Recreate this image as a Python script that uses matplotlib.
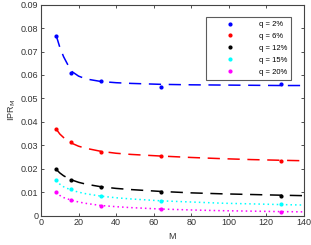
import numpy as np
import matplotlib
matplotlib.use("Agg")
import matplotlib.pyplot as plt

plt.rcParams['font.family'] = ['Liberation Sans', 'DejaVu Sans']

# measured points
M = [8, 16, 32, 64, 128]
ipr_q2 = [0.0766, 0.0607, 0.0575, 0.0548, 0.0560]
ipr_q6 = [0.0370, 0.0313, 0.0272, 0.0256, 0.0233]
ipr_q12 = [0.0199, 0.0152, 0.0124, 0.0102, 0.0084]
ipr_q15 = [0.0152, 0.0113, 0.0083, 0.0063, 0.0049]
ipr_q20 = [0.0102, 0.0067, 0.0043, 0.0027, 0.0017]

# fitted curves
M_fit = [8, 10, 12, 16, 20, 24, 32, 40, 48, 64, 80, 96, 112, 128, 140]
fit_q2 = [0.0770, 0.0718, 0.0678, 0.0617, 0.0595, 0.0583, 0.0572, 0.0567,
          0.0564, 0.0560, 0.0558, 0.0557, 0.0556, 0.0555, 0.0555]
fit_q6 = [0.0370, 0.0348, 0.0333, 0.0310, 0.0296, 0.0287, 0.0274, 0.0266,
          0.0261, 0.0254, 0.0248, 0.0243, 0.0239, 0.0236, 0.0234]
fit_q12 = [0.0198, 0.0182, 0.0170, 0.0153, 0.0142, 0.0134, 0.0123, 0.0116,
           0.0111, 0.0103, 0.0097, 0.0093, 0.0090, 0.0087, 0.0085]
fit_q15 = [0.0150, 0.0134, 0.0123, 0.0109, 0.0100, 0.0093, 0.0083, 0.0076,
           0.0071, 0.0063, 0.0058, 0.0053, 0.0050, 0.0047, 0.0045]
fit_q20 = [0.0100, 0.0086, 0.0077, 0.0066, 0.0058, 0.0052, 0.0043, 0.0038,
           0.0034, 0.0028, 0.0024, 0.0021, 0.0019, 0.0017, 0.0016]

labels = ['q = 2%', 'q = 6%', 'q = 12%', 'q = 15%', 'q = 20%']
colors = ['#0000ff', '#ff0000', '#000000', '#00ffff', '#ff00ff']
styles = [(0, (8, 5)), (0, (8, 5)), (0, (8, 5)), (0, (1, 2)), (0, (1, 2))]

fig = plt.figure(figsize=(3.11, 2.45), dpi=100)
ax = fig.add_axes([0.132, 0.12, 0.845, 0.861])

pts = [ipr_q2, ipr_q6, ipr_q12, ipr_q15, ipr_q20]
fits = [fit_q2, fit_q6, fit_q12, fit_q15, fit_q20]
for p, f, lab, c, ls in zip(pts, fits, labels, colors, styles):
    ax.plot(M_fit, f, color=c, linestyle=ls, linewidth=1.1)
    ax.plot(M, p, linestyle='none', marker='o', markersize=2.0, color=c, label=lab)

ax.set_xlim(0, 140)
ax.set_ylim(0, 0.09)
ax.set_xticks(np.arange(0, 141, 20))
ax.set_yticks(np.arange(0, 0.0901, 0.01))
ax.set_yticklabels(['0'] + ['%.2f' % v for v in np.arange(0.01, 0.0901, 0.01)])
ax.tick_params(direction='in', length=2.5, width=0.6, labelsize=6.5,
               colors='#333333', top=True, right=True, pad=2)
for s in ax.spines.values():
    s.set_color('#444444')
    s.set_linewidth(0.8)

ax.set_xlabel('M', fontsize=6.5, color='#333333', labelpad=3)
ax.set_ylabel('IPR$_{\\mathrm{M}}$', fontsize=6.5, color='#333333', labelpad=2)

leg = ax.legend(loc='upper right', bbox_to_anchor=(0.952, 0.943), fontsize=5.5,
                frameon=True, fancybox=False, handlelength=5.0, handletextpad=1.3,
                labelspacing=0.6, borderpad=0.55, borderaxespad=0, markerfirst=True)
leg.get_frame().set_edgecolor('#333333')
leg.get_frame().set_linewidth(0.8)

fig.savefig('out.png', dpi=100)
